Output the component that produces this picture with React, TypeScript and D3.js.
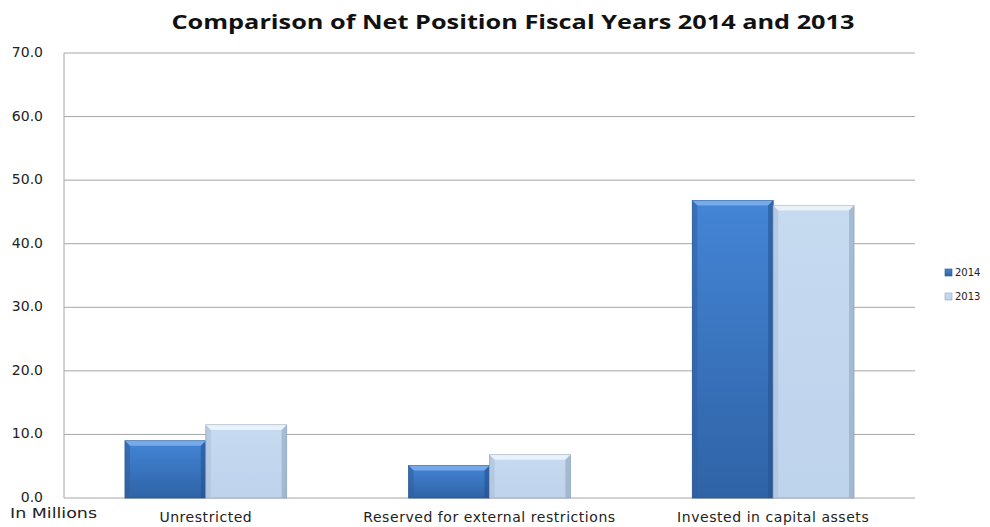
import React from "react";
import * as d3 from "d3";

const categories = ["Unrestricted", "Reserved for external restrictions", "Invested in capital assets"];
const seriesNames = ["2014", "2013"];
const values2014 = [9.0, 5.1, 46.8];
const values2013 = [11.5, 6.8, 46.0];
const yTicks = [0, 10, 20, 30, 40, 50, 60, 70];

const W = 990, H = 527;
const M = { left: 64, right: 915, top: 53, bottom: 498 };

export default function App() {
  const x0 = d3.scaleBand<string>().domain(categories).range([M.left, M.right]).paddingInner(0.43).paddingOuter(0.215);
  const x1 = d3.scaleBand<string>().domain(seriesNames).range([0, x0.bandwidth()]).padding(0);
  const y = d3.scaleLinear().domain([0, 70]).range([M.bottom, M.top]);
  const series = [
    { name: "2014", values: values2014, grad: "g2014", light: "#7fb0ec", dark: "#25528c", side: "#2f5f9e" },
    { name: "2013", values: values2013, grad: "g2013", light: "#eef5fd", dark: "#8fa6c0", side: "#a9bdd5" },
  ];
  const bev = 5;
  return (
    <svg width={W} height={H} style={{ position: "absolute", left: 0, top: 0 }} fontFamily="'DejaVu Sans', Verdana, sans-serif">
      <defs>
        <linearGradient id="g2014" x1="0" y1="0" x2="0" y2="1">
          <stop offset="0" stopColor="#4485d6" />
          <stop offset="1" stopColor="#2f63a6" />
        </linearGradient>
        <linearGradient id="g2013" x1="0" y1="0" x2="0" y2="1">
          <stop offset="0" stopColor="#c6daf0" />
          <stop offset="1" stopColor="#bed3ec" />
        </linearGradient>
      </defs>
      <rect width={W} height={H} fill="#fff" />
      <text x={513} y={29} textAnchor="middle" fontFamily="'Open Sans', sans-serif" fontWeight="bold" fontSize={20} textLength={683} lengthAdjust="spacingAndGlyphs" fill="#111">
        Comparison of Net Position Fiscal Years 2014 and 2013
      </text>
      {yTicks.map((t) => (
        <g key={t}>
          <line x1={M.left} x2={M.right} y1={y(t)} y2={y(t)} stroke="#a6a6a6" strokeWidth={1} />
          <text x={43} y={y(t) + 4} textAnchor="end" fontSize={14} fill="#222">{d3.format(".1f")(t)}</text>
        </g>
      ))}
      <line x1={M.left} x2={M.left} y1={M.top} y2={M.bottom} stroke="#a6a6a6" />
      {categories.map((c, i) => (
        <g key={c}>
          {series.map((s) => {
            const bx = (x0(c) as number) + (x1(s.name) as number);
            const bw = x1.bandwidth();
            const by = y(s.values[i]);
            const bh = M.bottom - by;
            return (
              <g key={s.name}>
                <rect x={bx} y={by} width={bw} height={bh} fill={`url(#${s.grad})`} stroke={s.dark} strokeWidth={0.8} />
                <polygon points={`${bx},${by} ${bx + bw},${by} ${bx + bw - bev},${by + bev} ${bx + bev},${by + bev}`} fill={s.light} opacity={0.85} />
                <polygon points={`${bx},${by} ${bx + bev},${by + bev} ${bx + bev},${M.bottom} ${bx},${M.bottom}`} fill={s.side} opacity={0.55} />
                <polygon points={`${bx + bw},${by} ${bx + bw - bev},${by + bev} ${bx + bw - bev},${M.bottom} ${bx + bw},${M.bottom}`} fill={s.dark} opacity={0.6} />
              </g>
            );
          })}
          <text x={(x0(c) as number) + x0.bandwidth() / 2} y={522} textAnchor="middle" fontSize={14} letterSpacing={0.55} fill="#222">{c}</text>
        </g>
      ))}
      <text x={10} y={518} fontSize={14} textLength={87} lengthAdjust="spacingAndGlyphs" fill="#222">In Millions</text>
      {series.map((s, i) => (
        <g key={s.name} transform={`translate(945, ${273 + i * 24})`}>
          <rect x={0} y={-4} width={7} height={7} fill={`url(#${s.grad})`} stroke={s.dark} strokeWidth={0.6} />
          <text x={10} y={3} fontSize={10} fill="#222">{s.name}</text>
        </g>
      ))}
    </svg>
  );
}
